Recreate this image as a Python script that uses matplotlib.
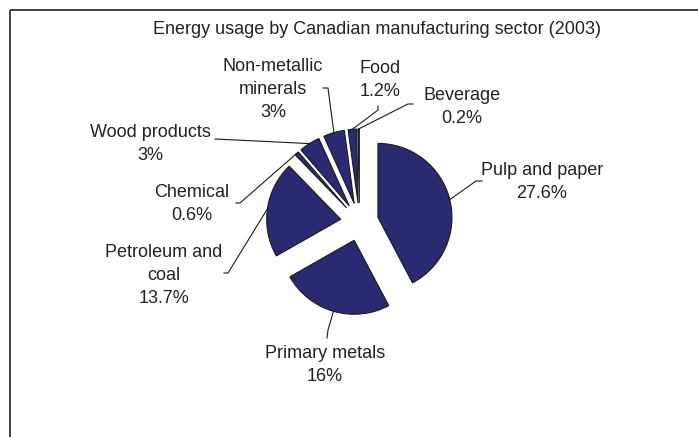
import numpy as np
import matplotlib
matplotlib.use('Agg')
from matplotlib import pyplot as plt

# energy share per sector, in percent
sectors = ['Pulp and paper', 'Primary metals', 'Petroleum and\ncoal', 'Chemical',
           'Wood products', 'Non-metallic\nminerals', 'Food', 'Beverage']
shares = [27.6, 16, 13.7, 0.6, 3, 3, 1.2, 0.2]

# label anchors (centre x, top y) and leader line ends (end, elbow) in pixels
label_pos = [(542, 162), (325, 345), (164, 244), (192, 184),
             (150, 124), (273, 58), (380, 60), (462, 87)]
leader_end = [(482, 181), (327, 338), (224, 273), (236, 203),
              (215, 139), (323, 88), (378, 106), (413, 104)]
leader_elbow = [(476, 181), (328, 330), (228, 273), (240, 203),
                None, (328, 88), (378, 110), (408, 104)]

W, H = 698, 437
cx, cy, R = 359.5, 222.0, 74.0
gap = 19.0  # how far each slice is pulled out

plt.rcParams['font.family'] = ['Liberation Sans', 'DejaVu Sans']
fig = plt.figure(figsize=(W / 100, H / 100), dpi=100)
ax = fig.add_axes([0, 0, 1, 1])

# chart frame (only top and left edges fall inside the picture)
ax.plot([9.5, W], [9.5, 9.5], color='#333333', lw=1.3, solid_capstyle='butt')
ax.plot([9.5, 9.5], [9.5, H], color='#333333', lw=1.3, solid_capstyle='butt')

ax.text(377, 30, 'Energy usage by Canadian manufacturing sector (2003)',
        ha='center', va='center', fontsize=13, color='#222222')

# y axis is flipped, so -90 is the top and counterclock runs clockwise on screen
wedges, _ = ax.pie(shares, center=(cx, cy), radius=R, startangle=-90,
                   counterclock=True, colors=['#2a2a72'] * len(shares),
                   wedgeprops=dict(edgecolor='#1a1a1a', linewidth=0.8))
ax.set_xlim(0, W)
ax.set_ylim(H, 0)
ax.set_aspect('equal')
ax.axis('off')

for i, w in enumerate(wedges):
    mid = np.deg2rad((w.theta1 + w.theta2) / 2)
    ux, uy = np.cos(mid), np.sin(mid)
    wx, wy = cx + gap * ux, cy + gap * uy
    w.set_center((wx, wy))

    # leader from the middle of the arc to the label
    px, py = wx + R * ux, wy + R * uy
    pts = [(px, py)]
    if leader_elbow[i] is not None:
        pts.append(leader_elbow[i])
    pts.append(leader_end[i])
    xs, ys = zip(*pts)
    ax.plot(xs, ys, color='#1a1a1a', lw=0.8)

    lx, ly = label_pos[i]
    ax.text(lx, ly, f'{sectors[i]}\n{shares[i]:g}%', ha='center', va='top',
            fontsize=13, color='#222222', linespacing=1.45)

fig.savefig('out.png', dpi=100)
